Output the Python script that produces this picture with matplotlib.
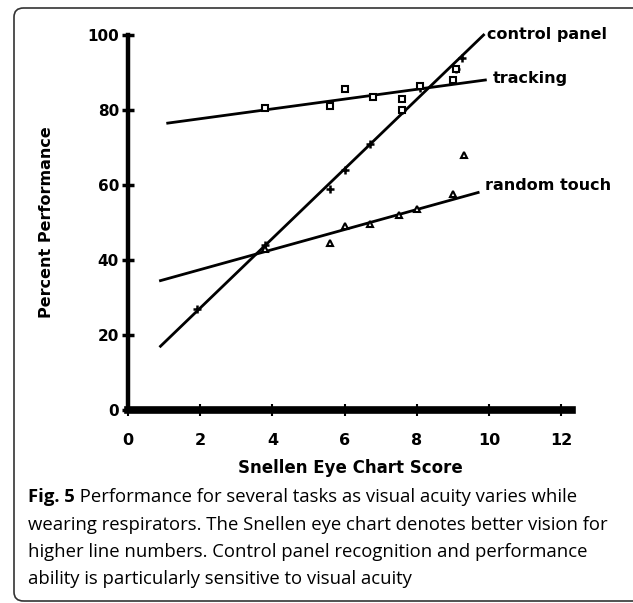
import matplotlib
matplotlib.use("Agg")
import matplotlib.pyplot as plt
from matplotlib.patches import FancyBboxPatch

# fitted lines (end points)
control_line_x = [0.9, 9.85]
control_line_y = [17, 100]
tracking_line_x = [1.1, 9.9]
tracking_line_y = [76.5, 88]
random_line_x = [0.9, 9.7]
random_line_y = [34.5, 58]

# measured points
control_x = [1.9, 3.8, 5.6, 6.0, 6.7, 7.6, 8.1, 9.1, 9.25]
control_y = [27, 44, 59, 64, 71, 80, 86, 91, 94]
tracking_x = [3.8, 5.6, 6.0, 6.8, 7.6, 7.6, 8.1, 9.0, 9.1]
tracking_y = [80.5, 81, 85.5, 83.5, 83, 80, 86.5, 88, 91]
random_x = [3.8, 5.6, 6.0, 6.7, 7.5, 8.0, 9.0, 9.3]
random_y = [43, 44.5, 49, 49.5, 52, 53.5, 57.5, 68]

x_ticks = [0, 2, 4, 6, 8, 10, 12]
y_ticks = [0, 20, 40, 60, 80, 100]

caption_bold = "Fig. 5"
caption_lines = [
    " Performance for several tasks as visual acuity varies while",
    "wearing respirators. The Snellen eye chart denotes better vision for",
    "higher line numbers. Control panel recognition and performance",
    "ability is particularly sensitive to visual acuity",
]

W, H = 633, 603
fig = plt.figure(figsize=(W / 100, H / 100), dpi=100)

# rounded frame round the figure
frame = FancyBboxPatch((14 / W, 1 - 601 / H), 640 / W, 593 / H,
                       boxstyle="round,pad=0,rounding_size=0.015",
                       transform=fig.transFigure, fill=False,
                       edgecolor="#333333", linewidth=1.2)
fig.patches.append(frame)

# axes: x 0..12.3 from px 128..572, y 0..100 from px 410..35
ax = fig.add_axes([128 / W, 1 - 410 / H, 444 / W, 375 / H])
ax.set_xlim(0, 12.3)
ax.set_ylim(0, 100)

for s in ["top", "right"]:
    ax.spines[s].set_visible(False)
ax.spines["left"].set_linewidth(3.2)
ax.spines["bottom"].set_linewidth(5.5)

ax.set_xticks(x_ticks)
ax.set_yticks(y_ticks)
ax.tick_params(axis="y", direction="inout", length=9, width=2.5,
               labelsize=11, pad=2)
ax.tick_params(axis="x", direction="inout", length=9, width=1.5,
               labelsize=11.5, pad=12)
for lab in ax.get_xticklabels() + ax.get_yticklabels():
    lab.set_fontweight("bold")

ax.set_xlabel("Snellen Eye Chart Score", fontsize=12, fontweight="bold",
              labelpad=8)
ax.set_ylabel("Percent Performance", fontsize=11.5, fontweight="bold",
              labelpad=24)

lw = 2.0
ax.plot(control_line_x, control_line_y, color="black", lw=lw, clip_on=False)
ax.plot(tracking_line_x, tracking_line_y, color="black", lw=lw, clip_on=False)
ax.plot(random_line_x, random_line_y, color="black", lw=lw, clip_on=False)

ax.plot(control_x, control_y, ls="none", marker="+", ms=6, mew=1.8,
        color="black", clip_on=False)
ax.plot(tracking_x, tracking_y, ls="none", marker="s", ms=4.5, mew=1.5,
        mfc="white", mec="black", clip_on=False)
ax.plot(random_x, random_y, ls="none", marker="^", ms=5, mew=1.5,
        mfc="white", mec="black", clip_on=False)

ax.text(control_line_x[-1] + 0.1, control_line_y[-1], "control panel",
        fontsize=11.5, fontweight="bold", va="center", ha="left")
ax.text(tracking_line_x[-1] + 0.2, tracking_line_y[-1] + 0.5, "tracking",
        fontsize=11.5, fontweight="bold", va="center", ha="left")
ax.text(random_line_x[-1] + 0.2, random_line_y[-1] + 2, "random touch",
        fontsize=11.5, fontweight="bold", va="center", ha="left")

# caption
cap_font = "Open Sans"
cap_size = 13.3
x0 = 28 / W
ys = [497, 525, 552, 579]
fig.canvas.draw()
renderer = fig.canvas.get_renderer()
t = fig.text(x0, 1 - ys[0] / H, caption_bold, fontsize=cap_size,
             fontweight="bold", family=cap_font, va="center", ha="left")
bb = t.get_window_extent(renderer=renderer)
fig.text(bb.x1 / W, 1 - ys[0] / H, caption_lines[0], fontsize=cap_size,
         family=cap_font, va="center", ha="left")
for line, y in zip(caption_lines[1:], ys[1:]):
    fig.text(x0, 1 - y / H, line, fontsize=cap_size, family=cap_font,
             va="center", ha="left")

fig.savefig("out.png", dpi=100)
